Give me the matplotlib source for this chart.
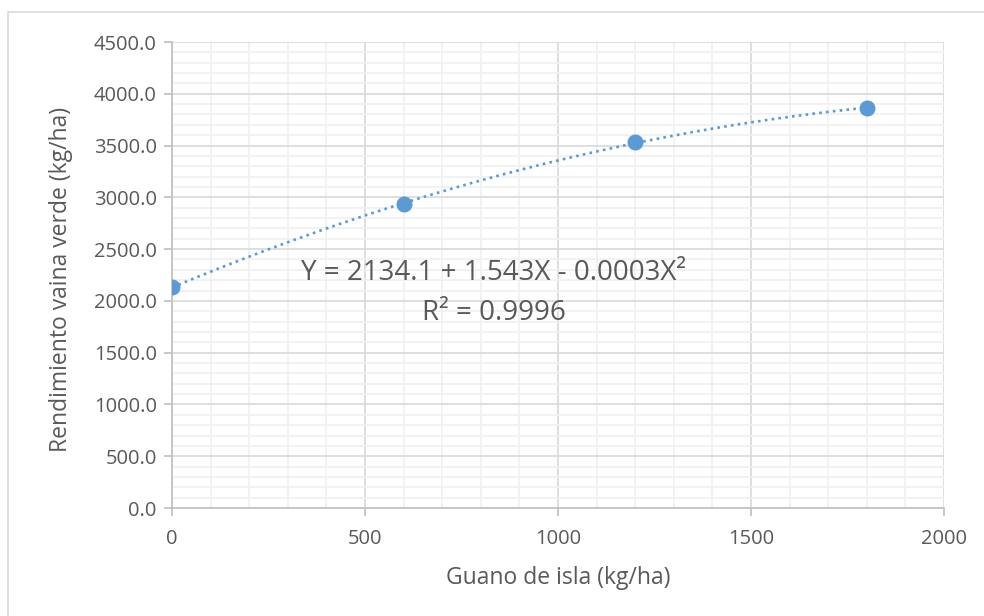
import numpy as np
import matplotlib as mpl
import matplotlib.pyplot as plt
from matplotlib.patches import Rectangle
from matplotlib.ticker import MultipleLocator, FormatStrFormatter

# data
guano = [0, 600, 1200, 1800]
rendimiento = [2134.0, 2932.0, 3535.0, 3862.0]
eq_text = 'Y = 2134.1 + 1.543X - 0.0003X²'
r2_text = 'R² = 0.9996'

blue = '#5B9BD5'
grey_text = '#595959'
mpl.rcParams['font.family'] = ['Open Sans', 'DejaVu Sans']

fig = plt.figure(figsize=(9.84, 6.16), dpi=100)
fig.patches.append(Rectangle((8 / 984, -0.1), 1.2, 1 - 12 / 616 + 0.1,
                             transform=fig.transFigure, fill=False,
                             edgecolor='#D9D9D9', linewidth=1.2))
ax = fig.add_axes([172 / 984, 1 - 508 / 616, 772 / 984, 466 / 616])

# polynomial trendline (order 2), like the spreadsheet
coef = np.polyfit(guano, rendimiento, 2)
xs = np.linspace(0, 1800, 200)
ax.plot(xs, np.polyval(coef, xs), color=blue, linewidth=1.9,
        linestyle=(0, (1, 1.6)), zorder=3)
ax.plot(guano, rendimiento, 'o', color=blue, markersize=10.5, zorder=4)

ax.set_xlim(0, 2000)
ax.set_ylim(0, 4500)
ax.xaxis.set_major_locator(MultipleLocator(500))
ax.xaxis.set_minor_locator(MultipleLocator(100))
ax.yaxis.set_major_locator(MultipleLocator(500))
ax.yaxis.set_minor_locator(MultipleLocator(100))
ax.yaxis.set_major_formatter(FormatStrFormatter('%.1f'))

ax.grid(which='major', color='#D9D9D9', linewidth=1.2, zorder=1)
ax.grid(which='minor', color='#F0F0F0', linewidth=1.2, zorder=0)
ax.set_axisbelow(True)

for side in ['top', 'right']:
    ax.spines[side].set_visible(False)
for side in ['left', 'bottom']:
    ax.spines[side].set_color('#BFBFBF')
    ax.spines[side].set_linewidth(1.2)
ax.tick_params(which='major', direction='out', length=6, width=1.2,
               color='#BFBFBF', labelcolor=grey_text, labelsize=14.5)
ax.tick_params(which='minor', length=0)
ax.tick_params(axis='x', pad=9)
ax.tick_params(axis='y', pad=5)

ax.set_xlabel('Guano de isla (kg/ha)', fontsize=16.5, color=grey_text)
ax.set_ylabel('Rendimiento vaina verde (kg/ha)', fontsize=16.5, color=grey_text)
ax.xaxis.set_label_coords(0.5, -70 / 466)
ax.yaxis.set_label_coords(-(172 - 61) / 772, (508 - 279) / 466)
ax.xaxis.label.set_va('center')
ax.yaxis.label.set_va('center')

ax.text(832, 2269, eq_text, fontsize=20, color=grey_text, ha='center', va='center')
ax.text(834, 1883, r2_text, fontsize=20, color=grey_text, ha='center', va='center')

fig.savefig('out.png', dpi=100)
